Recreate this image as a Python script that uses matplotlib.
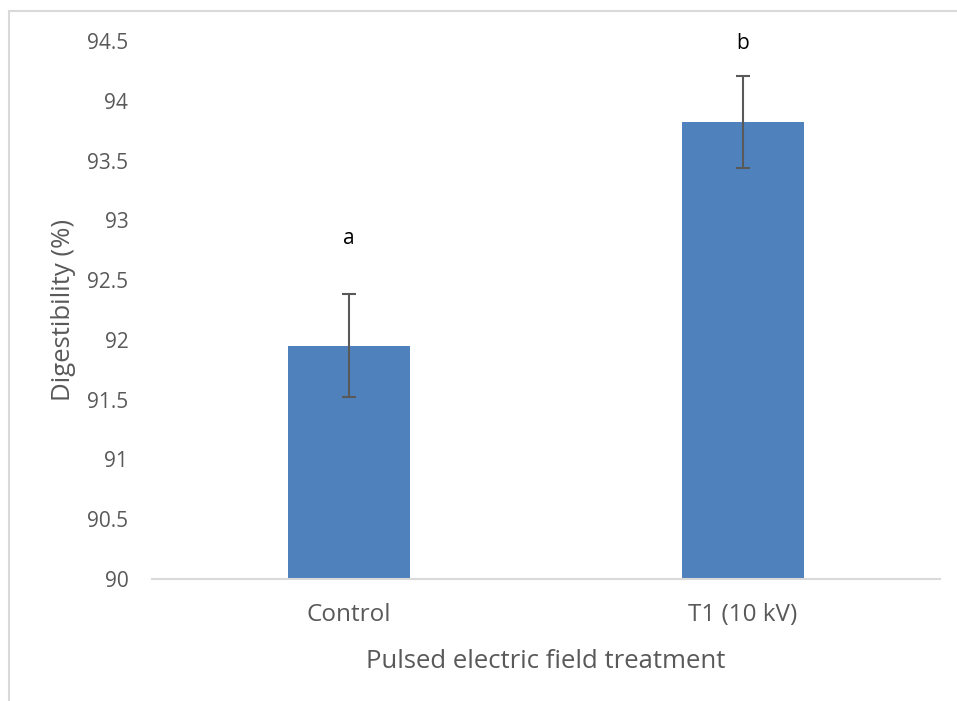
import matplotlib.pyplot as plt
import matplotlib.patches as patches

# data
categories = ["Control", "T1 (10 kV)"]
digestibility = [91.95, 93.82]
errors = [0.43, 0.385]
letters = ["a", "b"]
letter_y = [92.85, 94.48]
yticks = [90, 90.5, 91, 91.5, 92, 92.5, 93, 93.5, 94, 94.5]

plt.rcParams['font.family'] = ['Open Sans', 'DejaVu Sans']

fig = plt.figure(figsize=(9.57, 7.01), dpi=100)
ax = fig.add_axes([0.1588, 0.174, 0.9822 - 0.1588, 0.9415 - 0.174])

x = range(len(categories))
ax.bar(x, digestibility, width=0.31, color="#4f81bd", zorder=2)
ax.errorbar(x, digestibility, yerr=errors, fmt="none", ecolor="#595959",
            elinewidth=1.5, capsize=5, capthick=1.5, zorder=3)
for i in x:
    ax.text(i, letter_y[i], letters[i], ha="center", va="center",
            fontsize=15, color="black", clip_on=False)

ax.set_xlim(-0.5, 1.5)
ax.set_ylim(90, 94.5)
ax.set_yticks(yticks)
ax.set_yticklabels([("%g" % v) for v in yticks])
ax.set_xticks(list(x))
ax.set_xticklabels(categories)
ax.tick_params(axis="both", length=0, labelcolor="#595959")
ax.tick_params(axis="y", pad=17, labelsize=15)
ax.tick_params(axis="x", pad=17, labelsize=17.5)

for s in ["top", "right", "left"]:
    ax.spines[s].set_visible(False)
ax.spines["bottom"].set_color("#d9d9d9")
ax.spines["bottom"].set_linewidth(1.5)

ax.set_ylabel("Digestibility (%)", fontsize=18.5, color="#595959", labelpad=8)
ax.set_xlabel("Pulsed electric field treatment", fontsize=18.5, color="#595959", labelpad=16)

# chart border, cut off at right and bottom like the source
border = patches.Rectangle((9 / 957, -0.2), 1.2, 0.2 + 1 - 11 / 701,
                           transform=fig.transFigure, fill=False,
                           edgecolor="#d9d9d9", linewidth=1.5)
fig.patches.append(border)

fig.savefig("out.png", dpi=100)
